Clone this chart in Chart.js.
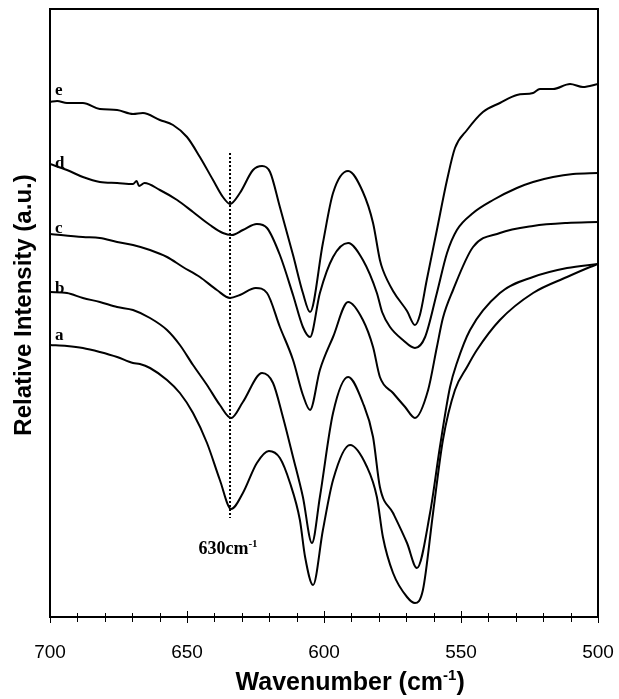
<!DOCTYPE html>
<html>
<head>
<meta charset="utf-8">
<script src="https://cdn.jsdelivr.net/npm/chart.js@4.4.1/dist/chart.umd.min.js"></script>
<style>
    html, body { margin: 0; padding: 0; background: #fff; }
    #wrap { width: 619px; height: 699px; }
</style>
</head>
<body>
<div id="wrap"><canvas id="ftirChart" width="619" height="699"></canvas></div>
<script>
// Wavenumbers (cm-1) and relative intensities (a.u.)
const waveA = [700, 693.8, 688, 681.8, 675.5, 669.7, 667.2, 663.5, 657.3, 652.6, 647.8, 642.7, 638, 633.9, 629.6, 624.5, 620.1, 616.1, 612.4, 608.8, 606.9, 604, 600.4, 596.7, 590.5, 584.3, 580.7, 578.5, 574.8, 569.7, 566.8, 563.9, 560.2, 556.6, 552.2, 547.8, 544.2, 535.8, 523.7, 511.3, 502.9, 500];
const valA = [272, 271, 269, 265, 260, 254, 253, 249, 237, 224, 204, 174, 137, 108, 124, 154, 166, 159, 134, 97, 60, 32, 87, 137, 172, 150, 120, 80, 44, 20, 14, 27, 104, 177, 227, 250, 267, 297, 324, 340, 350, 353];

const waveB = [700, 693.8, 688, 681.8, 675.5, 669.7, 663.5, 657.3, 652.6, 647.8, 642.7, 638, 633.9, 629.6, 622.6, 618.6, 615, 611.3, 607.7, 604.4, 601.5, 596.7, 591.2, 585.8, 582.1, 579.6, 574.8, 569.7, 566.1, 561.3, 557.7, 554, 551.5, 546.7, 535.8, 523.7, 511.3, 500];
const valB = [325, 324, 319, 315, 310, 307, 299, 287, 272, 252, 232, 212, 199, 215, 244, 234, 200, 160, 120, 74, 120, 204, 240, 214, 180, 130, 104, 74, 49, 104, 170, 230, 254, 287, 324, 340, 349, 353];

const waveC = [700, 688, 681.8, 675.5, 669.7, 663.5, 657.3, 651.5, 645.3, 639.1, 634.3, 630.7, 624.9, 620.8, 616.1, 611.3, 607.7, 605.1, 601.5, 596.7, 591.2, 585.8, 582.1, 579.6, 574.8, 570.4, 566.8, 562, 558.8, 556.6, 552.9, 545.6, 535.8, 523.7, 511.3, 500];
const valC = [383, 380, 379, 375, 372, 367, 360, 350, 340, 327, 319, 322, 329, 324, 290, 257, 222, 207, 247, 280, 315, 297, 270, 240, 224, 210, 199, 227, 270, 299, 327, 370, 384, 391, 394, 395];

const waveD = [700, 693.8, 688, 681.8, 675.5, 669.7, 668.4, 667.5, 665.5, 659.9, 653.6, 647.8, 641.6, 636.9, 633.6, 629.6, 624.5, 620.8, 616.1, 611.3, 607.7, 605.1, 601.5, 596.7, 591.2, 585.8, 580.7, 578.8, 575.9, 571.2, 566.8, 563.1, 558.8, 555.1, 551.5, 545.6, 538.3, 529.6, 523.7, 516.4, 509.1, 500];
const valD = [453, 447, 440, 435, 434, 433, 436, 431, 434, 427, 417, 405, 392, 384, 382, 387, 393, 389, 362, 322, 290, 280, 324, 360, 374, 357, 324, 305, 290, 277, 269, 280, 324, 364, 387, 404, 417, 429, 435, 440, 443, 444];

const waveE = [700, 697.4, 693.8, 688, 681.8, 675.5, 669.7, 666.1, 659.9, 655.1, 650, 645.3, 640.5, 636.9, 634.3, 630.7, 625.9, 622.6, 619.7, 616.1, 611.3, 607.7, 605.1, 600.4, 596.7, 591.2, 585.8, 582.1, 579.6, 578.5, 574.8, 569.7, 566.8, 565, 562.5, 558.8, 555.1, 552.2, 547.8, 542, 535.8, 529.6, 523.7, 521.2, 516.4, 510.2, 505.5, 500];
const valE = [515, 516, 514, 514, 508, 507, 503, 504, 497, 492, 480, 460, 437, 420, 413, 424, 447, 451, 445, 410, 362, 324, 305, 374, 424, 446, 425, 394, 357, 347, 326, 306, 292, 302, 337, 387, 437, 469, 487, 505, 514, 522, 524, 528, 528, 533, 530, 533];

// dotted marker at the 630 cm-1 band
const markerWave = [634.3, 634.3];
const markerVal = [464, 99];

const seriesNames = ['a', 'b', 'c', 'd', 'e'];
const labelOffsets = [-5, 1, -1, 4, -7]; // px from the first point of each curve
const xTicks = [700, 650, 600, 550, 500];

function toPoints(xs, ys) {
    return xs.map((w, i) => ({ x: w, y: ys[i] }));
}

const spectra = [
    toPoints(waveA, valA),
    toPoints(waveB, valB),
    toPoints(waveC, valC),
    toPoints(waveD, valD),
    toPoints(waveE, valE)
];

// draw text with a small raised part, e.g. cm-1
function textWithSup(ctx, base, sup, x, y, baseFont, supFont, raise, align) {
    ctx.font = baseFont;
    const wBase = ctx.measureText(base).width;
    ctx.font = supFont;
    const wSup = ctx.measureText(sup).width;
    let start = x;
    if (align === 'center') start = x - (wBase + wSup) / 2;
    ctx.textAlign = 'left';
    ctx.font = baseFont;
    ctx.fillText(base, start, y);
    ctx.font = supFont;
    ctx.fillText(sup, start + wBase, y - raise);
    return start + wBase + wSup;
}

const decorations = {
    id: 'decorations',
    afterDraw(chart) {
        const { ctx, chartArea: area, scales: { x, y } } = chart;
        ctx.save();

        // frame
        ctx.strokeStyle = '#000';
        ctx.lineWidth = 2;
        ctx.strokeRect(area.left, area.top, area.right - area.left, area.bottom - area.top);

        // tick marks crossing the bottom axis
        ctx.lineWidth = 1;
        for (let v = 500; v <= 700; v += 10) {
            const px = Math.round(x.getPixelForValue(v)) + 0.5;
            const major = v % 50 === 0;
            ctx.beginPath();
            ctx.moveTo(px, area.bottom - (major ? 6 : 4));
            ctx.lineTo(px, area.bottom + (major ? 6 : 5));
            ctx.stroke();
        }

        ctx.fillStyle = '#000';
        ctx.textBaseline = 'alphabetic';

        // curve letters
        ctx.font = 'bold 17px "Liberation Serif", "Times New Roman", serif';
        ctx.textAlign = 'left';
        spectra.forEach((pts, i) => {
            const py = y.getPixelForValue(pts[0].y) + labelOffsets[i];
            ctx.fillText(seriesNames[i], area.left + 5, py);
        });

        // band label under the dotted line
        const mx = x.getPixelForValue(markerWave[0]);
        const my = y.getPixelForValue(markerVal[1]);
        textWithSup(ctx, '630cm', '-1', mx - 2, my + 36,
            'bold 18px "Liberation Serif", serif', 'bold 11px "Liberation Serif", serif', 7, 'center');

        // axis titles
        const titleFont = 'bold 25px "Liberation Sans", Arial, sans-serif';
        const supFont = 'bold 15px "Liberation Sans", Arial, sans-serif';
        const cx = (area.left + area.right) / 2 + 22;
        const end = textWithSup(ctx, 'Wavenumber (cm', '-1', cx, 690, titleFont, supFont, 10, 'center');
        ctx.font = titleFont;
        ctx.fillText(')', end, 690);

        ctx.translate(31, 305);
        ctx.rotate(-Math.PI / 2);
        ctx.font = 'bold 24px "Liberation Sans", Arial, sans-serif';
        ctx.textAlign = 'center';
        ctx.fillText('Relative Intensity (a.u.)', 0, 0);

        ctx.restore();
    }
};

const datasets = spectra.map((pts, i) => ({
    label: seriesNames[i],
    data: pts,
    borderColor: '#000',
    borderWidth: 2,
    pointRadius: 0,
    fill: false,
    cubicInterpolationMode: 'monotone'
}));

datasets.push({
    label: 'marker',
    data: toPoints(markerWave, markerVal),
    borderColor: '#000',
    borderWidth: 2,
    borderDash: [2, 2],
    pointRadius: 0,
    fill: false,
    tension: 0
});

const ctx = document.getElementById('ftirChart').getContext('2d');
new Chart(ctx, {
    type: 'line',
    data: { datasets: datasets },
    options: {
        responsive: false,
        animation: false,
        devicePixelRatio: 1,
        layout: { padding: { left: 50, right: 21, top: 9, bottom: 0 } },
        plugins: {
            legend: { display: false },
            tooltip: { enabled: false }
        },
        scales: {
            x: {
                type: 'linear',
                reverse: true,
                min: 500,
                max: 700,
                afterFit: scale => {
                    scale.height = 82;
                    scale.paddingLeft = 0;
                    scale.paddingRight = 0;
                },
                afterBuildTicks: scale => { scale.ticks = xTicks.map(v => ({ value: v })); },
                grid: { display: false, drawTicks: false },
                border: { display: false },
                ticks: {
                    maxRotation: 0,
                    padding: 24,
                    color: '#000',
                    font: { family: '"Liberation Sans", Arial, sans-serif', size: 19 }
                }
            },
            y: {
                display: false,
                min: 0,
                max: 608
            }
        }
    },
    plugins: [decorations]
});
</script>
</body>
</html>
